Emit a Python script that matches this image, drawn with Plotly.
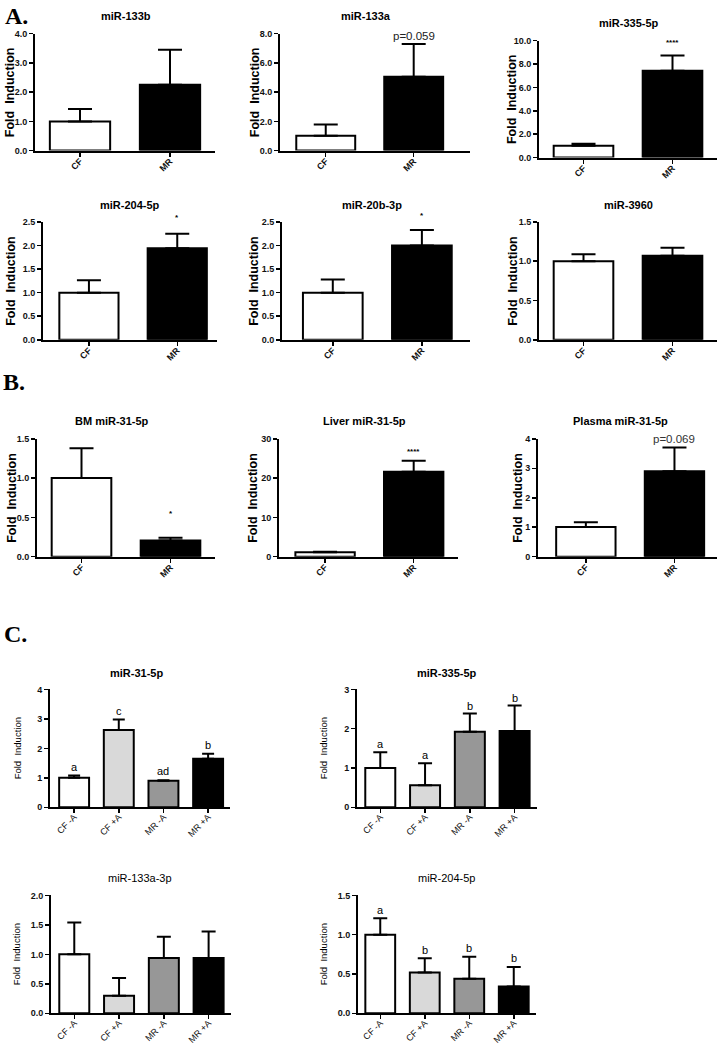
import plotly.graph_objects as go

W, H = 720, 1050
SANS = "Liberation Sans, Arial, sans-serif"
SERIF = "Liberation Serif, Times New Roman, serif"

# ---------------- data ----------------
cats2 = ["CF", "MR"]
cats4 = ["CF -A", "CF +A", "MR -A", "MR +A"]

mir133b_mean = [1.0, 2.25];  mir133b_sem = [0.42, 1.2]
mir133a_mean = [1.02, 5.05]; mir133a_sem = [0.76, 2.25]
mir335_mean = [1.0, 7.42];   mir335_sem = [0.18, 1.3]
mir204_mean = [1.0, 1.94];   mir204_sem = [0.26, 0.31]
mir20b_mean = [1.0, 2.0];    mir20b_sem = [0.28, 0.33]
mir3960_mean = [1.0, 1.07];  mir3960_sem = [0.09, 0.10]

bm31_mean = [1.0, 0.205];    bm31_sem = [0.38, 0.035]
liver31_mean = [1.1, 21.6];  liver31_sem = [0.16, 2.8]
plasma31_mean = [1.01, 2.9]; plasma31_sem = [0.16, 0.81]

c31_mean = [1.0, 2.62, 0.9, 1.65];   c31_sem = [0.08, 0.36, 0.02, 0.17]
c335_mean = [1.0, 0.56, 1.92, 1.94]; c335_sem = [0.40, 0.56, 0.47, 0.65]
c133_mean = [1.0, 0.30, 0.94, 0.94]; c133_sem = [0.54, 0.30, 0.36, 0.45]
c204_mean = [1.0, 0.52, 0.44, 0.34]; c204_sem = [0.21, 0.18, 0.28, 0.25]

c31_letters = ["a", "c", "ad", "b"]
c335_letters = ["a", "a", "b", "b"]
c204_letters = ["a", "b", "b", "b"]

colors2 = ["white", "black"]
colors4 = ["white", "#d9d9d9", "#979797", "black"]

fig = go.Figure()
annotations = []
geom = {}


def px(x):
    return x / W


def py(y):
    return 1 - y / H


def add_panel(i, cats, mean, sem, colors, x0, x1, xr, ytop, yzero, ymax, tickvals,
              tickfmt, title, tx, ty, ytx, cap, style="A", title_bold=True):
    xa = "x" if i == 1 else f"x{i}"
    ya = "y" if i == 1 else f"y{i}"
    geom[xa] = (ytop, yzero, ymax)
    fig.add_trace(go.Bar(
        x=cats, y=mean, xaxis=xa, yaxis=ya, width=0.67,
        marker=dict(color=colors, line=dict(color="black", width=2)),
        error_y=dict(type="data", array=sem, arrayminus=[0] * len(sem), symmetric=False,
                     color="black", thickness=2, width=cap),
        showlegend=False, hoverinfo="skip"))
    if style == "C":
        tickfont = dict(family=SANS, size=9, color="#111", weight="bold")
        xtickfont = dict(family=SANS, size=9, color="#111")
        stand = -5
    else:
        tickfont = dict(family=SANS, size=9, color="#111", weight="bold")
        xtickfont = dict(family=SANS, size=9, color="#111", weight="bold")
        stand = -4
    key = "" if i == 1 else str(i)
    fig.layout["xaxis" + key] = dict(
        domain=[px(x0), px(x1)], anchor=ya, type="category", range=xr,
        showline=True, linecolor="black", linewidth=2, ticks="outside", ticklen=4,
        tickwidth=1.5, tickcolor="black", tickangle=-45, tickfont=xtickfont,
        ticklabelstandoff=stand,
        showgrid=False, zeroline=False, fixedrange=True)
    fig.layout["yaxis" + key] = dict(
        domain=[py(yzero), py(ytop)], anchor=xa, range=[0, ymax],
        tickvals=tickvals, tickformat=tickfmt,
        showline=True, linecolor="black", linewidth=2, ticks="outside", ticklen=4,
        tickwidth=1.5, tickcolor="black", tickfont=tickfont,
        showgrid=False, zeroline=False, fixedrange=True)
    annotations.append(dict(
        text=title, x=px(tx), y=py(ty), xref="paper", yref="paper", showarrow=False,
        xanchor="center", yanchor="middle",
        font=dict(family=SANS, size=11, color="black",
                  weight="bold" if title_bold else "normal")))
    if style == "A":
        yfont = dict(family=SANS, size=12.5, color="black", weight="bold")
    else:
        yfont = dict(family=SANS, size=9.5, color="black")
    annotations.append(dict(
        text="Fold  Induction", x=px(ytx), y=py((ytop + yzero) / 2), xref="paper",
        yref="paper", showarrow=False, textangle=-90, xanchor="center",
        yanchor="middle", font=yfont))
    return xa, ya


def label(xa, xcat, yval, text, size=9, bold=False, color="black"):
    ytop, yzero, ymax = geom[xa]
    ypix = yzero - yval / ymax * (yzero - ytop)
    annotations.append(dict(
        text=text, x=xcat, y=py(ypix), xref=xa, yref="paper", showarrow=False,
        xanchor="center", yanchor="middle",
        font=dict(family=SANS, size=size, color=color,
                  weight="bold" if bold else "normal")))


# ---------------- Panel A ----------------
add_panel(1, cats2, mir133b_mean, mir133b_sem, colors2, 35, 215, [-0.5, 1.5], 29, 147, 4,
          [0, 1, 2, 3, 4], ".1f", "miR-133b", 126, 11, 10, 12)
xa, ya = add_panel(2, cats2, mir133a_mean, mir133a_sem, colors2, 280, 470, [-0.52, 1.64], 29, 147, 8,
                   [0, 2, 4, 6, 8], ".1f", "miR-133a", 366, 11, 255, 12)
label(xa, "MR", 7.85, "p=0.059", size=11.5, color="#222")
xa, ya = add_panel(3, cats2, mir335_mean, mir335_sem, colors2, 539, 717, [-0.5, 1.5], 36, 154, 10,
                   [0, 2, 4, 6, 8, 10], ".1f", "miR-335-5p", 629, 18, 512, 12)
label(xa, "MR", 9.85, "****", size=8, bold=True)

xa, ya = add_panel(4, cats2, mir204_mean, mir204_sem, colors2, 43, 217, [-0.52, 1.45], 219, 338, 2.5,
                   [0, 0.5, 1, 1.5, 2, 2.5], ".1f", "miR-204-5p", 130, 202, 11, 12)
label(xa, "MR", 2.6, "*", size=8, bold=True)
xa, ya = add_panel(5, cats2, mir20b_mean, mir20b_sem, colors2, 282, 470, [-0.57, 1.54], 219, 338, 2.5,
                   [0, 0.5, 1, 1.5, 2, 2.5], ".1f", "miR-20b-3p", 372, 202, 254, 12)
label(xa, "MR", 2.64, "*", size=8, bold=True)
add_panel(6, cats2, mir3960_mean, mir3960_sem, colors2, 539, 717, [-0.5, 1.5], 219, 338, 1.5,
          [0, 0.5, 1, 1.5], ".1f", "miR-3960", 628, 202, 513, 12)

# ---------------- Panel B ----------------
xa, ya = add_panel(7, cats2, bm31_mean, bm31_sem, colors2, 37, 215, [-0.5, 1.5], 438, 557, 1.5,
                   [0, 0.5, 1, 1.5], ".1f", "BM miR-31-5p", 112, 420, 12, 12)
label(xa, "MR", 0.55, "*", size=8, bold=True)
xa, ya = add_panel(8, cats2, liver31_mean, liver31_sem, colors2, 279, 458, [-0.52, 1.5], 438, 557, 30,
                   [0, 10, 20, 30], "d", "Liver miR-31-5p", 364, 420, 253, 12)
label(xa, "MR", 26.9, "****", size=8, bold=True)
xa, ya = add_panel(9, cats2, plasma31_mean, plasma31_sem, colors2, 538, 717, [-0.54, 1.48], 438, 557, 4,
                   [0, 1, 2, 3, 4], "d", "Plasma miR-31-5p", 620, 420, 518, 12)
label(xa, "MR", 4.0, "p=0.069", size=11.5, color="#333")

# ---------------- Panel C ----------------
xa, ya = add_panel(10, cats4, c31_mean, c31_sem, colors4, 50, 230, [-0.54, 3.49], 691, 810, 4,
                   [0, 1, 2, 3, 4], "d", "miR-31-5p", 136, 674, 17, 6, style="C")
for c, m, s, t in zip(cats4, c31_mean, c31_sem, c31_letters):
    label(xa, c, m + s + 0.3, t, size=11)
xa, ya = add_panel(11, cats4, c335_mean, c335_sem, colors4, 357, 537, [-0.52, 3.5], 691, 810, 3,
                   [0, 1, 2, 3], "d", "miR-335-5p", 447, 674, 323, 7, style="C")
for c, m, s, t in zip(cats4, c335_mean, c335_sem, c335_letters):
    label(xa, c, m + s + 0.2, t, size=11)
add_panel(12, cats4, c133_mean, c133_sem, colors4, 51, 231, [-0.52, 3.5], 899, 1018, 2,
          [0, 0.5, 1, 1.5, 2], ".1f", "miR-133a-3p", 140, 881, 16, 7, style="C", title_bold=False)
xa, ya = add_panel(13, cats4, c204_mean, c204_sem, colors4, 358, 536, [-0.5, 3.5], 899, 1018, 1.5,
                   [0, 0.5, 1, 1.5], ".1f", "miR-204-5p", 446, 881, 323, 7, style="C", title_bold=False)
for c, m, s, t in zip(cats4, c204_mean, c204_sem, c204_letters):
    label(xa, c, m + s + 0.11, t, size=11)

# panel letters
for txt, x, y in [("A.", 16, 11), ("B.", 14, 381), ("C.", 15, 635)]:
    annotations.append(dict(text=txt, x=px(x), y=py(y), xref="paper", yref="paper",
                            showarrow=False, xanchor="center", yanchor="middle",
                            font=dict(family=SERIF, size=24, color="black", weight="bold")))

fig.update_layout(
    width=W, height=H, margin=dict(l=0, r=0, t=0, b=0),
    paper_bgcolor="white", plot_bgcolor="white",
    annotations=annotations, bargap=0, showlegend=False)

fig.write_html("out.html", config={"displayModeBar": False, "staticPlot": True},
               post_script="document.body.style.margin='0';document.body.style.overflow='hidden';")
